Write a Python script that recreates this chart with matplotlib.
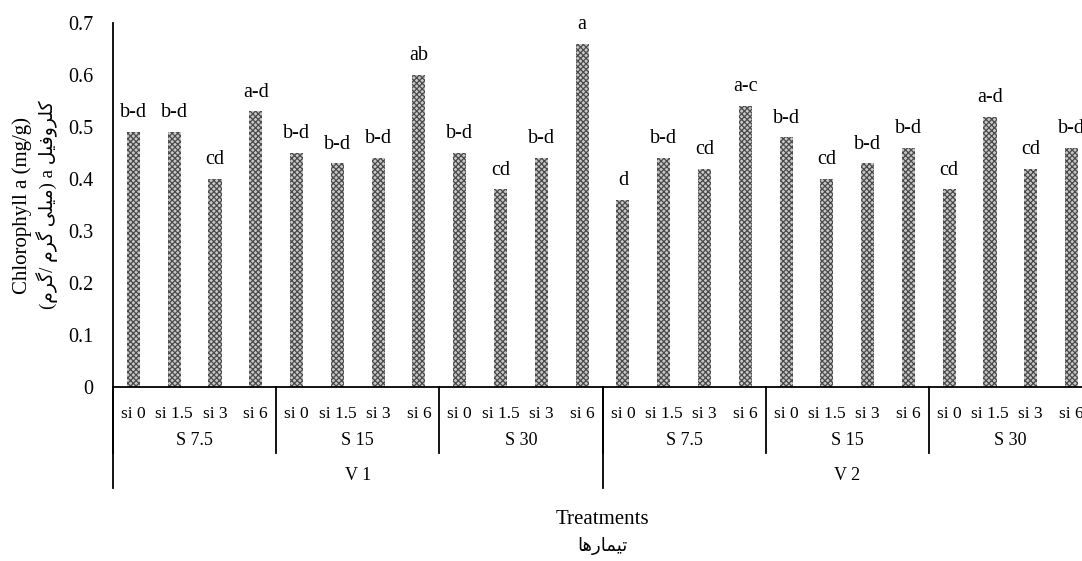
import numpy as np
import matplotlib.pyplot as plt

plt.rcParams['font.family'] = ['Liberation Serif', 'DejaVu Sans']
plt.rcParams['hatch.linewidth'] = 0.9

# data
si_levels = ['si 0', 'si 1.5', 'si 3', 'si 6']
s_levels = ['S 7.5', 'S 15', 'S 30']
v_levels = ['V 1', 'V 2']
values = [0.49, 0.49, 0.40, 0.53,
          0.45, 0.43, 0.44, 0.60,
          0.45, 0.38, 0.44, 0.66,
          0.36, 0.44, 0.42, 0.54,
          0.48, 0.40, 0.43, 0.46,
          0.38, 0.52, 0.42, 0.46]
letters = ['b-d', 'b-d', 'cd', 'a-d',
           'b-d', 'b-d', 'b-d', 'ab',
           'b-d', 'cd', 'b-d', 'a',
           'd', 'b-d', 'cd', 'a-c',
           'b-d', 'cd', 'b-d', 'b-d',
           'cd', 'a-d', 'cd', 'b-d']

# pre-shaped Persian text (visual order)
ylabel_fa = '(\uFEE1\uFEAE\uFB94/ \uFEE1\uFEAE\uFB94 \uFEF0\uFEE0\uFEF4\uFEE3) a \uFEDE\uFEF4\uFED3\uFEED\uFEAE\uFEE0\uFEDB'
xlabel_fa = '\uFE8E\uFEEB\uFEAD\uFE8E\uFEE4\uFEF4\uFE97'

n_si = len(si_levels)
n_s = len(s_levels)
x = np.arange(len(values))

fig = plt.figure(figsize=(10.82, 5.61), dpi=100)
ax = fig.add_axes([113 / 1082, 1 - 387 / 561, 979 / 1082, 364 / 561])

ax.bar(x, values, width=0.32, color='#c8c8c8', edgecolor='#4a4a4a',
       hatch='xxxxxx', linewidth=0)
for xi, v, t in zip(x, values, letters):
    ax.annotate(t, (xi, v), textcoords='offset points', xytext=(0, 7),
                ha='center', va='bottom', fontsize=14.5)

ax.set_xlim(-0.5, len(values) - 0.5)
ax.set_ylim(0, 0.7)
ax.set_yticks(np.arange(0, 0.71, 0.1))
ax.set_yticklabels(['0'] + ['%.1f' % v for v in np.arange(0.1, 0.71, 0.1)])
ax.tick_params(axis='y', length=0, pad=14, labelsize=14.5)
ax.set_xticks(x)
ax.set_xticklabels(si_levels * (n_s * len(v_levels)))
ax.tick_params(axis='x', length=0, pad=14, labelsize=12.5)
for sp in ['top', 'right']:
    ax.spines[sp].set_visible(False)
ax.spines['left'].set_linewidth(1.3)
ax.spines['bottom'].set_linewidth(1.3)

tr = ax.get_xaxis_transform()
# S level separators and labels
for g in range(n_s * len(v_levels)):
    left = g * n_si - 0.5
    ax.plot([left, left], [0, -0.181], transform=tr, color='black', lw=1.3, clip_on=False)
    ax.text(left + n_si / 2, -0.146, s_levels[g % n_s], transform=tr,
            ha='center', va='center', fontsize=13)
# V level separators and labels
for k, vl in enumerate(v_levels):
    left = k * n_si * n_s - 0.5
    ax.plot([left, left], [0, -0.277], transform=tr, color='black', lw=1.3, clip_on=False)
    ax.text(left + n_si * n_s / 2, -0.242, vl, transform=tr,
            ha='center', va='center', fontsize=13)

ax.text(0.5, -0.365, 'Treatments', transform=ax.transAxes, ha='center', va='center', fontsize=15)
ax.text(0.5, -0.437, xlabel_fa, transform=ax.transAxes, ha='center', va='center', fontsize=13)
ax.text(-0.093, 0.5, 'Chlorophyll a (mg/g)', transform=ax.transAxes, rotation=90,
        ha='center', va='center', fontsize=15)
ax.text(-0.067, 0.5, ylabel_fa, transform=ax.transAxes, rotation=90,
        ha='center', va='center', fontsize=13.5)

fig.savefig('out.png', dpi=100)
